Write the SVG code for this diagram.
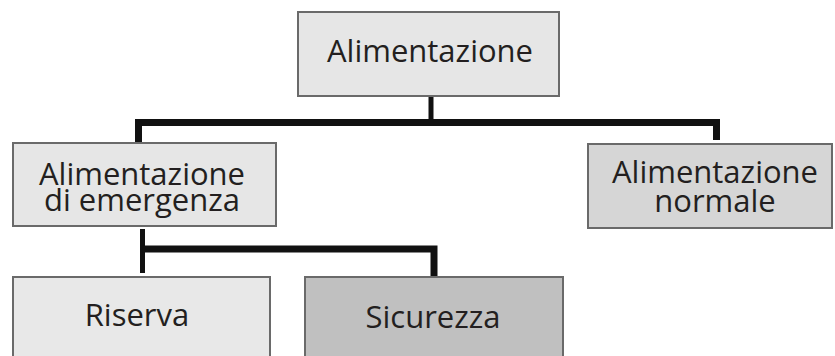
<svg xmlns="http://www.w3.org/2000/svg" width="835" height="356" viewBox="0 0 835 356">
<style>
.box{stroke:#6a6a6a;stroke-width:2}
.t{font-family:"Open Sans","Noto Sans","Liberation Sans",sans-serif;font-size:31px;fill:#231f20;text-anchor:middle}
.c{fill:none;stroke:#111;stroke-linejoin:miter}
</style>
<rect width="835" height="356" fill="#ffffff"/>
<g id="connectors">
<path class="c" d="M138.5 142 V122.5 H716.5 V140" stroke-width="7"/>
<path class="c" d="M431 96 V119" stroke-width="5"/>
<path class="c" d="M142.5 229 V273" stroke-width="5"/>
<path class="c" d="M142.5 249 H434 V276" stroke-width="7"/>
</g>
<g id="alimentazione">
<rect class="box" x="298" y="12" width="261" height="84" fill="#e6e6e6"/>
<text class="t" x="430" y="62">Alimentazione</text>
</g>
<g id="emergenza">
<rect class="box" x="13" y="143" width="263" height="83" fill="#e6e6e6"/>
<text class="t" x="142" y="185">Alimentazione<tspan x="142" y="211">di emergenza</tspan></text>
</g>
<g id="normale">
<rect class="box" x="588" y="144" width="244" height="84" fill="#d6d6d6"/>
<text class="t" x="715" y="183">Alimentazione<tspan x="715" y="212">normale</tspan></text>
</g>
<g id="riserva">
<rect class="box" x="13" y="277" width="257" height="85" fill="#e8e8e8"/>
<text class="t" x="137" y="326">Riserva</text>
</g>
<g id="sicurezza">
<rect class="box" x="305" y="277" width="258" height="85" fill="#c0c0c0"/>
<text class="t" x="433" y="328">Sicurezza</text>
</g>
</svg>
